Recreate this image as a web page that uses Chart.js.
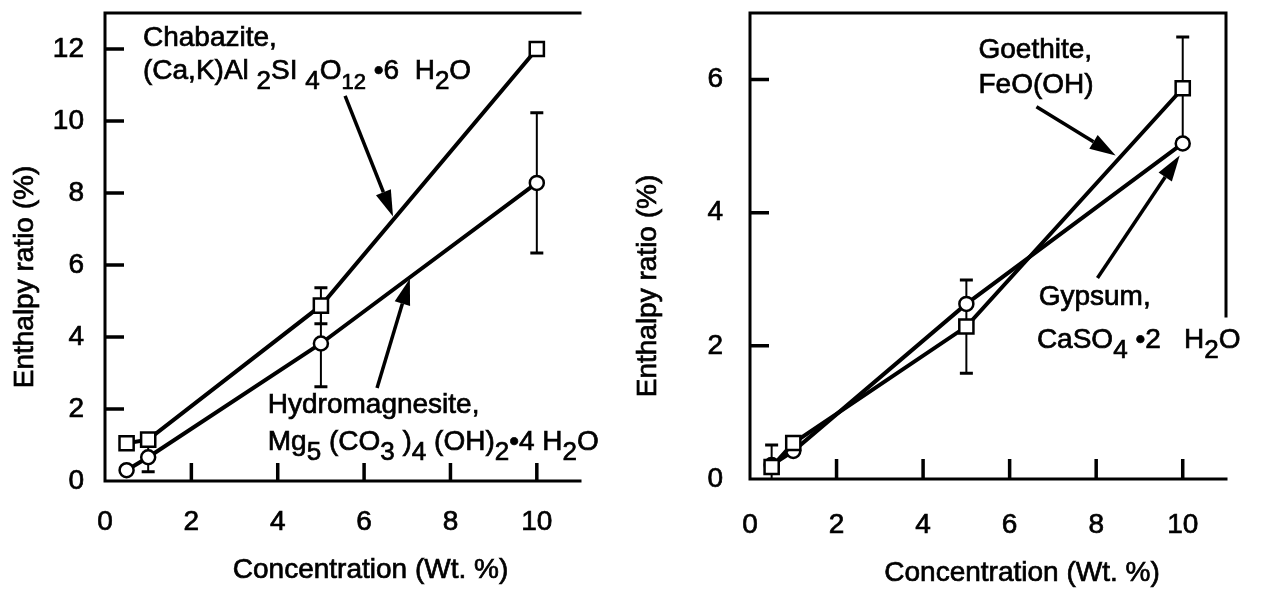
<!DOCTYPE html>
<html>
<head>
<meta charset="utf-8">
<script src="https://cdn.jsdelivr.net/npm/chart.js@4.4.1/dist/chart.umd.min.js"></script>
<style>
  html, body { margin: 0; padding: 0; background: #fff; }
  #wrap { position: relative; width: 1261px; height: 589px; overflow: hidden; }
  canvas { position: absolute; top: 0; }
  #left { left: 0; }
  #right { left: 630px; }
</style>
</head>
<body>
<div id="wrap">
  <canvas id="left" width="700" height="589"></canvas>
  <canvas id="right" width="631" height="589"></canvas>
</div>
<script>
// concentration levels (wt. %)
const concentrations = [0.5, 1, 5, 10];
const xTicks = [0, 2, 4, 6, 8, 10];

// left panel, enthalpy ratio (%)
const chabazite = [1.05, 1.15, 4.87, 12.0];
const chabaziteErr = [0, 0, 0.5, 0];
const hydromagnesite = [0.3, 0.66, 3.82, 8.28];
const hydromagnesiteErr = [0, 0.4, 1.2, 1.95];
const leftYTicks = [0, 2, 4, 6, 8, 10, 12];

// right panel, enthalpy ratio (%)
const goethite = [0.18, 0.54, 2.29, 5.87];
const goethiteErr = [0, 0, 0.7, 0.77];
const gypsum = [0.21, 0.42, 2.63, 5.04];
const gypsumErr = [0.3, 0, 0, 0];
const rightYTicks = [0, 2, 4, 6];

const FONT = "'Liberation Sans', Arial, Helvetica, sans-serif";
Chart.defaults.font.family = FONT;
Chart.defaults.font.size = 28;
Chart.defaults.color = '#000';

function points(values) {
    return concentrations.map((c, i) => ({ x: c, y: values[i] }));
}

// filled text with a thin outline so it reads as heavy as the print
function heavyText(ctx, text, x, y) {
    ctx.fillText(text, x, y);
    ctx.strokeText(text, x, y);
}

// text with lowered chemical subscripts
function drawRich(ctx, x, y, parts) {
    parts.forEach(p => {
        const text = typeof p === 'string' ? p : p[0];
        const kind = typeof p === 'string' ? 'n' : p[1];
        const size = kind === 'small' ? 22 : kind === 'sub' ? 26 : 28;
        const dy = kind === 'n' ? 0 : 10;
        ctx.font = size + 'px ' + FONT;
        heavyText(ctx, text, x, y + dy);
        x += ctx.measureText(text).width;
    });
}

function drawArrow(ctx, x1, y1, x2, y2) {
    const ang = Math.atan2(y2 - y1, x2 - x1);
    const headLen = 26, headW = 8;
    const bx = x2 - Math.cos(ang) * headLen, by = y2 - Math.sin(ang) * headLen;
    ctx.lineWidth = 3.5;
    ctx.beginPath();
    ctx.moveTo(x1, y1);
    ctx.lineTo(bx, by);
    ctx.stroke();
    ctx.beginPath();
    ctx.moveTo(x2, y2);
    ctx.lineTo(bx - Math.sin(ang) * headW, by + Math.cos(ang) * headW);
    ctx.lineTo(bx + Math.sin(ang) * headW, by - Math.cos(ang) * headW);
    ctx.closePath();
    ctx.fill();
}

// frame, inward ticks, error bars, arrows, labels and axis titles
const paperPlugin = {
    id: 'paper',
    beforeDatasetsDraw(chart, args, opts) {
        const ctx = chart.ctx;
        const { left, right, top, bottom } = chart.chartArea;
        const xs = chart.scales.x, ys = chart.scales.y;
        ctx.save();
        ctx.strokeStyle = '#000';
        ctx.fillStyle = '#000';
        ctx.lineWidth = 3;
        ctx.lineCap = 'square';
        ctx.beginPath();
        ctx.moveTo(right, top);
        ctx.lineTo(left, top);
        ctx.lineTo(left, bottom);
        ctx.lineTo(right, bottom);
        if (opts.rightBorderTo != null) {
            ctx.moveTo(right, top);
            ctx.lineTo(right, ys.getPixelForValue(opts.rightBorderTo));
        }
        ctx.stroke();

        ctx.lineCap = 'butt';
        ctx.lineWidth = 3.5;
        ctx.beginPath();
        xs.ticks.forEach(t => {
            if (t.value <= xs.min) return;
            const px = xs.getPixelForValue(t.value);
            ctx.moveTo(px, bottom);
            ctx.lineTo(px, bottom - opts.xTickLen);
        });
        ys.ticks.forEach(t => {
            if (t.value <= ys.min) return;
            const py = ys.getPixelForValue(t.value);
            ctx.moveTo(left, py);
            ctx.lineTo(left + opts.yTickLen, py);
        });
        ctx.stroke();

        // error bars sit behind the markers and stop at the axis
        ctx.beginPath();
        ctx.rect(left, top, right - left, bottom - top);
        ctx.clip();
        chart.data.datasets.forEach(ds => {
            (ds.errorBars || []).forEach((e, j) => {
                if (!e) return;
                const pt = ds.data[j];
                const px = xs.getPixelForValue(pt.x);
                const hi = ys.getPixelForValue(pt.y + e);
                const lo = ys.getPixelForValue(pt.y - e);
                ctx.lineWidth = 2;
                ctx.beginPath();
                ctx.moveTo(px, hi);
                ctx.lineTo(px, lo);
                ctx.stroke();
                ctx.lineWidth = 3;
                ctx.beginPath();
                ctx.moveTo(px - 6.5, hi);
                ctx.lineTo(px + 6.5, hi);
                ctx.moveTo(px - 6.5, lo);
                ctx.lineTo(px + 6.5, lo);
                ctx.stroke();
            });
        });
        ctx.restore();
    },
    afterDraw(chart, args, opts) {
        const ctx = chart.ctx;
        const { left, right, top, bottom } = chart.chartArea;
        const xs = chart.scales.x, ys = chart.scales.y;
        ctx.save();
        ctx.strokeStyle = '#000';
        ctx.fillStyle = '#000';
        (opts.arrows || []).forEach(a => {
            drawArrow(ctx,
                xs.getPixelForValue(a.from[0]), ys.getPixelForValue(a.from[1]),
                xs.getPixelForValue(a.to[0]), ys.getPixelForValue(a.to[1]));
        });
        ctx.lineWidth = 0.7;
        ctx.textAlign = 'left';
        ctx.textBaseline = 'alphabetic';
        (opts.labels || []).forEach(l => {
            drawRich(ctx, xs.getPixelForValue(l.x), ys.getPixelForValue(l.y), l.parts);
        });

        // axis titles
        ctx.font = '28px ' + FONT;
        ctx.textAlign = 'center';
        ctx.textBaseline = 'middle';
        heavyText(ctx, opts.xTitle, (left + right) / 2 + opts.xTitleShift, opts.xTitleY);
        ctx.translate(opts.yTitleX, (top + bottom) / 2 + opts.yTitleShift);
        ctx.rotate(-Math.PI / 2);
        heavyText(ctx, opts.yTitle, 0, 0);
        ctx.restore();
    }
};

function makeChart(id, cfg) {
    const dataset = (values, errs, style, radius) => ({
        data: points(values),
        errorBars: errs,
        showLine: true,
        borderColor: '#000',
        borderWidth: 4,
        pointStyle: style,
        pointRadius: radius,
        pointBackgroundColor: '#fff',
        pointBorderColor: '#000',
        pointBorderWidth: 2.5
    });
    const tickFont = { textStrokeColor: '#000', textStrokeWidth: 0.7, autoSkip: false };
    return new Chart(document.getElementById(id), {
        type: 'line',
        data: {
            datasets: [
                dataset(cfg.square, cfg.squareErr, 'rect', 10),
                dataset(cfg.circle, cfg.circleErr, 'circle', 7)
            ]
        },
        options: {
            responsive: false,
            animation: false,
            devicePixelRatio: 1,
            layout: { padding: cfg.padding, autoPadding: false },
            plugins: {
                legend: { display: false },
                tooltip: { enabled: false },
                paper: cfg.paper
            },
            scales: {
                x: {
                    type: 'linear',
                    min: 0,
                    max: 11,
                    grid: { display: false, drawTicks: false },
                    border: { display: false },
                    afterBuildTicks: s => { s.ticks = xTicks.map(v => ({ value: v })); },
                    afterFit: s => {
                        s.height = cfg.xAxisHeight;
                        s.paddingLeft = 0;
                        s.paddingRight = 0;
                    },
                    ticks: { ...tickFont, padding: cfg.xPad, maxRotation: 0 }
                },
                y: {
                    type: 'linear',
                    min: 0,
                    max: cfg.yMax,
                    grid: { display: false, drawTicks: false },
                    border: { display: false },
                    afterBuildTicks: s => { s.ticks = cfg.yTicks.map(v => ({ value: v })); },
                    // keep the label half-heights from pushing the plot area down
                    afterFit: s => {
                        s.width = cfg.yAxisWidth;
                        s.paddingTop = 0;
                        s.paddingBottom = 0;
                    },
                    ticks: { ...tickFont, padding: cfg.yPad }
                }
            }
        },
        plugins: [paperPlugin]
    });
}

makeChart('left', {
    square: chabazite, squareErr: chabaziteErr,
    circle: hydromagnesite, circleErr: hydromagnesiteErr,
    yMax: 13, yTicks: leftYTicks,
    padding: { left: 0, top: 13, right: 120, bottom: 0 },
    yAxisWidth: 105, xAxisHeight: 108, xPad: 24, yPad: 21,
    paper: {
        xTickLen: 18, yTickLen: 19,
        xTitle: 'Concentration (Wt. %)', xTitleShift: 28, xTitleY: 570,
        yTitle: 'Enthalpy ratio (%)', yTitleX: 25, yTitleShift: 30,
        arrows: [
            { from: [5.56, 10.7], to: [6.67, 7.35] },
            { from: [6.3, 2.58], to: [7.06, 5.62] }
        ],
        labels: [
            { x: 0.88, y: 12.08, parts: ['Chabazite,'] },
            { x: 0.88, y: 11.17, parts: ['(Ca,K)Al ', ['2', 'sub'], 'SI ', ['4', 'sub'], 'O', ['12', 'small'], ' \u20226  H', ['2', 'sub'], 'O'] },
            { x: 3.77, y: 1.88, parts: ['Hydromagnesite,'] },
            { x: 3.77, y: 0.85, parts: ['Mg', ['5', 'sub'], ' (CO', ['3', 'sub'], ' )', ['4', 'sub'], ' (OH)', ['2', 'sub'], '\u20224 H', ['2', 'sub'], 'O'] }
        ]
    }
});

makeChart('right', {
    square: goethite, squareErr: goethiteErr,
    circle: gypsum, circleErr: gypsumErr,
    yMax: 7, yTicks: rightYTicks,
    padding: { left: 0, top: 13, right: 35, bottom: 0 },
    yAxisWidth: 120, xAxisHeight: 110, xPad: 29, yPad: 27,
    paper: {
        xTickLen: 20, yTickLen: 19, rightBorderTo: 2.45,
        xTitle: 'Concentration (Wt. %)', xTitleShift: 34, xTitleY: 573,
        yTitle: 'Enthalpy ratio (%)', yTitleX: 18, yTitleShift: 40,
        arrows: [
            { from: [6.62, 5.59], to: [8.45, 4.86] },
            { from: [8.03, 3.02], to: [9.93, 4.86] }
        ],
        labels: [
            { x: 5.28, y: 6.32, parts: ['Goethite,'] },
            { x: 5.28, y: 5.8, parts: ['FeO(OH)'] },
            { x: 6.67, y: 2.61, parts: ['Gypsum,'] },
            { x: 6.63, y: 1.97, parts: ['CaSO', ['4', 'sub'], ' \u20222   H', ['2', 'sub'], 'O'] }
        ]
    }
});
</script>
</body>
</html>
